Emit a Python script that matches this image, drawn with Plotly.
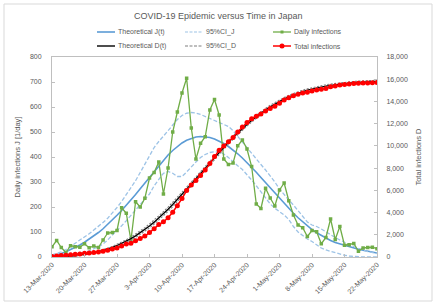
import plotly.graph_objects as go
import pandas as pd

# ---------------- data ----------------
start_date = "2020-03-13"
n_days = 71
dates = pd.date_range(start_date, periods=n_days, freq="D")

tick_dates = ["2020-03-13", "2020-03-20", "2020-03-27", "2020-04-03", "2020-04-10",
              "2020-04-17", "2020-04-24", "2020-05-01", "2020-05-08", "2020-05-15",
              "2020-05-22"]
tick_labels = ["13-Mar-2020", "20-Mar-2020", "27-Mar-2020", "3-Apr-2020", "10-Apr-2020",
               "17-Apr-2020", "24-Apr-2020", "1-May-2020", "8-May-2020", "15-May-2020",
               "22-May-2020"]

daily_infections = [41, 66, 38, 18, 45, 41, 39, 53, 37, 44, 38, 68, 96, 98, 106,
                    197, 175, 66, 221, 200, 235, 316, 338, 380, 252, 356, 500, 580,
                    656, 715, 516, 392, 455, 481, 588, 630, 568, 392, 370, 376, 445,
                    468, 432, 362, 212, 194, 275, 236, 204, 268, 296, 225, 168, 128,
                    117, 82, 106, 101, 53, 78, 152, 70, 122, 47, 49, 54, 23, 36, 38,
                    39, 33]

total_infections = [40, 100, 140, 160, 200, 240, 280, 330, 370, 410, 450, 520, 610,
                    710, 810, 1000, 1170, 1240, 1460, 1660, 1890, 2200, 2540, 2920,
                    3170, 3530, 4030, 4610, 5260, 5980, 6490, 6880, 7340, 7820, 8410,
                    9040, 9610, 10000, 10370, 10750, 11250, 11700, 12100, 12450,
                    12660, 12860, 13130, 13360, 13570, 13830, 14120, 14340, 14510,
                    14640, 14750, 14830, 14940, 15040, 15090, 15170, 15320, 15390,
                    15490, 15530, 15570, 15610, 15630, 15650, 15670, 15690, 15710]

theory_J = [5, 9, 14, 21, 29, 38, 48, 59, 71, 84, 98, 113, 130, 148, 167, 186, 206,
            228, 250, 273, 296, 320, 343, 366, 388, 408, 426, 442, 456, 467, 475,
            480, 482, 481, 478, 472, 464, 454, 442, 428, 413, 396, 378, 359, 339,
            318, 297, 276, 255, 234, 214, 194, 175, 157, 140, 124, 110, 97, 86, 75,
            66, 58, 52, 46, 41, 36, 31, 27, 23, 19, 16]

ci_J_upper = [8, 14, 21, 30, 42, 54, 66, 79, 93, 108, 122, 138, 155, 175, 198, 222,
              248, 275, 305, 338, 372, 408, 438, 462, 482, 505, 528, 550, 566, 575,
              578, 576, 570, 562, 555, 548, 540, 532, 522, 505, 482, 458, 435, 415,
              393, 370, 348, 325, 300, 272, 248, 228, 208, 185, 160, 140, 128, 122,
              112, 100, 88, 78, 68, 58, 50, 42, 34, 28, 22, 18, 14]

ci_J_lower = [0, 1, 2, 4, 6, 9, 13, 19, 25, 32, 41, 52, 68, 88, 105, 125, 145, 165,
              188, 210, 232, 252, 285, 312, 335, 342, 335, 322, 322, 340, 362, 380,
              398, 410, 418, 421, 420, 412, 398, 380, 365, 350, 330, 308, 285, 260,
              235, 212, 195, 183, 168, 150, 122, 100, 85, 72, 62, 48, 36, 28, 22, 16,
              11, 7, 4, 2, 1, 0, 0, 0, 0]

theory_D = [5, 14, 28, 49, 78, 116, 164, 223, 294, 378, 476, 589, 719, 867, 1034,
            1220, 1426, 1654, 1904, 2177, 2473, 2793, 3136, 3502, 3890, 4298, 4724,
            5166, 5622, 6089, 6564, 7044, 7526, 8007, 8485, 8957, 9421, 9875, 10317,
            10745, 11158, 11554, 11932, 12291, 12630, 12948, 13245, 13521, 13776,
            14010, 14224, 14418, 14593, 14750, 14890, 15014, 15124, 15221, 15307,
            15384, 15450, 15508, 15560, 15606, 15647, 15683, 15714, 15741, 15764,
            15783, 15799]

ci_D_upper = [6, 16, 32, 56, 89, 132, 186, 252, 331, 424, 532, 655, 796, 955, 1134,
              1332, 1550, 1790, 2052, 2336, 2642, 2970, 3320, 3690, 4080, 4490, 4915,
              5355, 5810, 6275, 6745, 7220, 7700, 8178, 8652, 9120, 9580, 10030,
              10470, 10895, 11305, 11700, 12075, 12432, 12770, 13086, 13382, 13657,
              13910, 14143, 14356, 14549, 14723, 14879, 15018, 15141, 15250, 15346,
              15431, 15507, 15572, 15629, 15680, 15725, 15765, 15800, 15830, 15856,
              15878, 15896, 15911]

ci_D_lower = [4, 12, 24, 42, 67, 100, 142, 194, 257, 332, 420, 523, 642, 779, 934,
              1108, 1302, 1518, 1756, 2018, 2304, 2616, 2952, 3314, 3700, 4106, 4533,
              4977, 5434, 5903, 6383, 6868, 7352, 7836, 8318, 8794, 9262, 9720,
              10164, 10595, 11011, 11408, 11789, 12150, 12490, 12810, 13108, 13385,
              13642, 13877, 14092, 14287, 14463, 14621, 14762, 14887, 14998, 15096,
              15183, 15261, 15328, 15387, 15440, 15487, 15529, 15566, 15598, 15626,
              15650, 15670, 15687]

# ---------------- styling ----------------
W, H = 436, 306
PL, PR, PT, PB = 52, 377, 57, 257          # plot-area pixel box
FONT = "Liberation Sans"
TXT = "#595959"
AXC = "#bfbfbf"

C_J = "#5B9BD5"
C_CIJ = "#9DC3E6"
C_DAILY = "#70AD47"
C_D = "#000000"
C_CID = "#7F7F7F"
C_TOT = "#FF0000"
DASH_J = "4px,2px"
DASH_D = "2px,1.5px"


def px_x(p):
    return (p - PL) / (PR - PL)


def px_y(p):
    return (PB - p) / (PB - PT)


fig = go.Figure()

fig.add_trace(go.Scatter(x=dates, y=theory_J, mode="lines", name="Theoretical J(t)",
                         line=dict(color=C_J, width=1.6), yaxis="y"))
fig.add_trace(go.Scatter(x=dates, y=ci_J_upper, mode="lines", name="95%CI_J",
                         line=dict(color=C_CIJ, width=1.3, dash=DASH_J), yaxis="y"))
fig.add_trace(go.Scatter(x=dates, y=ci_J_lower, mode="lines", name="95%CI_J",
                         line=dict(color=C_CIJ, width=1.3, dash=DASH_J), yaxis="y"))
fig.add_trace(go.Scatter(x=dates, y=daily_infections, mode="lines+markers",
                         name="Daily infections",
                         line=dict(color=C_DAILY, width=1.3),
                         marker=dict(symbol="square", size=3.5, color=C_DAILY),
                         yaxis="y"))
fig.add_trace(go.Scatter(x=dates, y=theory_D, mode="lines", name="Theoretical D(t)",
                         line=dict(color=C_D, width=1.4), yaxis="y2"))
fig.add_trace(go.Scatter(x=dates, y=ci_D_upper, mode="lines", name="95%CI_D",
                         line=dict(color=C_CID, width=1.1, dash=DASH_D), yaxis="y2"))
fig.add_trace(go.Scatter(x=dates, y=ci_D_lower, mode="lines", name="95%CI_D",
                         line=dict(color=C_CID, width=1.1, dash=DASH_D), yaxis="y2"))
fig.add_trace(go.Scatter(x=dates, y=total_infections, mode="lines+markers",
                         name="Total infections",
                         line=dict(color=C_TOT, width=1.5),
                         marker=dict(symbol="circle", size=5, color=C_TOT),
                         yaxis="y2"))

shapes = []
annotations = []

# outer chart border
shapes.append(dict(type="rect", xref="paper", yref="paper",
                   x0=px_x(4), x1=px_x(432), y0=px_y(301), y1=px_y(4),
                   line=dict(color="#d9d9d9", width=1), layer="below"))

# title
annotations.append(dict(text="COVID-19 Epidemic versus Time in Japan",
                        xref="paper", yref="paper", x=px_x(218), y=px_y(16),
                        xanchor="center", yanchor="middle", showarrow=False,
                        font=dict(family=FONT, size=9, color=TXT)))

# manual legend (3 columns x 2 rows)
legend_rows = [
    [("Theoretical J(t)", C_J, "solid", None, 1.6),
     ("95%CI_J", C_CIJ, "3px,1.5px", None, 1.2),
     ("Daily infections", C_DAILY, "solid", "square", 1.3)],
    [("Theoretical D(t)", C_D, "solid", None, 1.4),
     ("95%CI_D", C_CID, "3px,1.5px", None, 1.1),
     ("Total infections", C_TOT, "solid", "circle", 1.5)],
]
col_x = [97, 185, 273]
row_y = [32, 46]
for r, row in enumerate(legend_rows):
    for c, (label, color, dash, mk, lw) in enumerate(row):
        x0 = col_x[c]
        y = row_y[r]
        shapes.append(dict(type="line", xref="paper", yref="paper",
                           x0=px_x(x0), x1=px_x(x0 + 18), y0=px_y(y), y1=px_y(y),
                           line=dict(color=color, width=lw, dash=dash)))
        if mk == "square":
            shapes.append(dict(type="rect", xref="paper", yref="paper",
                               x0=px_x(x0 + 7.5), x1=px_x(x0 + 10.5),
                               y0=px_y(y + 1.5), y1=px_y(y - 1.5),
                               line=dict(width=0), fillcolor=color))
        elif mk == "circle":
            shapes.append(dict(type="circle", xref="paper", yref="paper",
                               x0=px_x(x0 + 6.5), x1=px_x(x0 + 11.5),
                               y0=px_y(y + 2.5), y1=px_y(y - 2.5),
                               line=dict(width=0), fillcolor=color))
        annotations.append(dict(text=label, xref="paper", yref="paper",
                                x=px_x(x0 + 19), y=px_y(y), xanchor="left",
                                yanchor="middle", showarrow=False,
                                font=dict(family=FONT, size=7, color=TXT)))

fig.update_layout(
    template="none",
    width=W, height=H,
    margin=dict(l=PL, r=W - PR, t=PT, b=H - PB, pad=0, autoexpand=False),
    paper_bgcolor="white", plot_bgcolor="white",
    showlegend=False,
    hovermode=False,
    font=dict(family=FONT, size=7, color=TXT),
    shapes=shapes, annotations=annotations,
    xaxis=dict(type="date", range=[dates[0], dates[-1]], automargin=False,
               tickmode="array", tickvals=tick_dates, ticktext=tick_labels,
               tickangle=-45, ticks="inside", ticklen=3, tickcolor=AXC,
               showline=True, linecolor=AXC, linewidth=1, mirror=True,
               showgrid=False, zeroline=False,
               tickfont=dict(family=FONT, size=7, color=TXT)),
    yaxis=dict(range=[0, 800], dtick=100, tick0=0, ticks="inside", ticklen=3,
               automargin=False,
               tickcolor=AXC, showline=True, linecolor=AXC, linewidth=1,
               mirror=True, showgrid=False, zeroline=False,
               ticklabelstandoff=8,
               tickfont=dict(family=FONT, size=7, color=TXT),
               title=dict(text="Daily infections J [1/day]",
                          font=dict(family=FONT, size=7.5, color=TXT), standoff=8)),
    yaxis2=dict(range=[0, 18000], dtick=2000, tick0=0, overlaying="y", side="right",
                automargin=False,
                tickformat=",", ticks="inside", ticklen=3, tickcolor=AXC,
                showline=True, linecolor=AXC, linewidth=1, showgrid=False,
                zeroline=False, ticklabelstandoff=7,
                tickfont=dict(family=FONT, size=7, color=TXT),
                title=dict(text="Total infections D",
                           font=dict(family=FONT, size=7.5, color=TXT), standoff=8)),
)

fig.write_html("out.html",
               config={"displayModeBar": False, "staticPlot": True},
               post_script="document.body.style.margin='0';document.body.style.overflow='hidden';")
